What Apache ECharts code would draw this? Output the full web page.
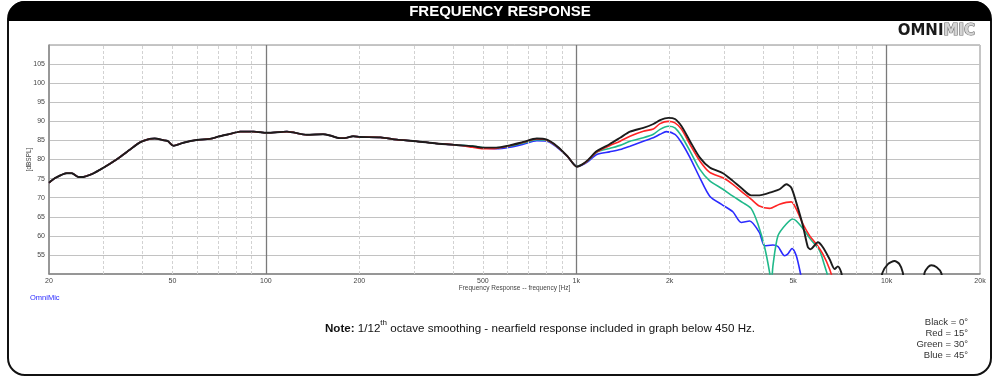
<!DOCTYPE html>
<html><head><meta charset="utf-8">
<script src="https://cdn.jsdelivr.net/npm/echarts@6/dist/echarts.min.js"></script>
<style>html,body{margin:0;padding:0;background:#fff}#c{width:1000px;height:378px}</style>
</head><body><div id="c"></div>
<script>
// ---- data (frequency in Hz, level in dB SPL) ----
// nearfield-merged part shared by all angles (below ~450 Hz)
const nearFreq = [20, 20.9, 22.8, 23.7, 24.9, 25.5, 27.5, 29.9, 33.0, 36.5, 39.3, 42.2, 43.8, 47.1, 48.3, 50.3, 52.0, 54.2, 59.8, 65.9, 71.1, 76.6, 82.6, 91.3, 100.9, 116.9, 135.5, 152.9, 160.8, 172.9, 179, 191, 201, 234, 264, 305, 354, 411];
const nearSpl  = [73.9, 75.1, 76.4, 76.4, 75.4, 75.4, 76.2, 77.8, 80.0, 82.6, 84.5, 85.4, 85.5, 85.0, 84.8, 83.6, 83.9, 84.4, 85.1, 85.4, 86.1, 86.7, 87.3, 87.3, 87.0, 87.3, 86.5, 86.6, 86.3, 85.6, 85.6, 86.1, 85.9, 85.8, 85.2, 84.8, 84.2, 83.8];

// 0 deg (black)
const blackFreq = [463, 500, 552, 611, 675, 746, 804, 867, 936, 1005, 1040, 1085, 1165, 1280, 1385, 1490, 1645, 1772, 1862, 1980, 2080, 2185, 2326, 2502, 2693, 2970, 3196, 3440, 3658, 3890, 4304, 4522, 4752, 4932, 5118, 5377, 5578, 5690, 6008, 6234, 6551, 6800, 6967, 7138, 7400, 9500, 9684, 10100, 10608, 11000, 11280, 11500, 13000, 13254, 13600, 13928, 14500, 14998, 15300];
const blackSpl  = [83.5, 83.1, 83.1, 83.7, 84.6, 85.5, 85.2, 83.5, 80.9, 78.1, 78.6, 79.7, 82.2, 84.0, 85.7, 87.3, 88.3, 89.3, 90.3, 90.9, 90.6, 88.7, 84.8, 80.5, 77.9, 76.4, 74.4, 72.2, 70.6, 70.6, 71.6, 72.2, 73.5, 72.6, 68.7, 62.6, 57.0, 56.5, 58.3, 57.0, 53.9, 51.3, 52.0, 50.5, 46.0, 46.0, 50.2, 52.6, 53.4, 52.6, 50.4, 46.0, 46.0, 50.3, 51.8, 52.3, 51.8, 50.3, 46.0];

// 15 deg (red)
const redFreq = [463, 500, 552, 611, 675, 746, 804, 867, 936, 1005, 1040, 1085, 1165, 1280, 1385, 1490, 1645, 1772, 1862, 1980, 2080, 2185, 2326, 2502, 2693, 2970, 3196, 3440, 3658, 3890, 4198, 4522, 4932, 5118, 5377, 5654, 5943, 6234, 6551, 6800];
const redSpl  = [83.2, 82.8, 82.9, 83.6, 84.5, 85.4, 85.1, 83.4, 80.9, 78.1, 78.6, 79.6, 82.0, 83.6, 84.8, 86.1, 87.4, 88.0, 89.4, 90.0, 89.6, 87.9, 83.9, 79.6, 76.6, 75.2, 73.5, 71.3, 69.6, 67.8, 67.2, 68.3, 68.9, 67.0, 63.1, 60.0, 57.8, 55.2, 51.3, 47.0];

// 30 deg (green)
const greenFreq = [463, 500, 552, 611, 675, 746, 804, 867, 936, 1005, 1040, 1085, 1165, 1280, 1385, 1490, 1645, 1772, 1862, 1980, 2080, 2185, 2326, 2502, 2693, 2970, 3196, 3440, 3658, 3850, 4046, 4198, 4250, 4304, 4466, 4752, 4992, 5175, 5444, 5690, 6084, 6313, 6436, 6550];
const greenSpl  = [83.5, 83.1, 83.0, 83.5, 84.3, 85.2, 85.0, 83.4, 80.9, 78.2, 78.6, 79.5, 81.9, 82.9, 83.7, 84.8, 85.7, 86.6, 87.9, 88.7, 88.3, 86.1, 82.2, 77.4, 74.4, 72.2, 70.4, 68.7, 67.2, 63.1, 57.0, 50.4, 47.0, 52.2, 60.0, 63.1, 64.4, 63.5, 61.3, 59.1, 56.1, 52.2, 50.0, 47.0];

// 45 deg (blue)
const blueFreq = [463, 500, 552, 611, 675, 746, 804, 867, 936, 1005, 1040, 1085, 1165, 1280, 1385, 1490, 1645, 1772, 1862, 1950, 2080, 2185, 2326, 2502, 2693, 2970, 3196, 3400, 3620, 3890, 4046, 4304, 4466, 4690, 4800, 4960, 5118, 5284, 5400];
const blueSpl  = [83.4, 83.0, 82.8, 83.2, 84.0, 84.9, 84.8, 83.2, 80.8, 78.2, 78.5, 79.3, 81.3, 82.0, 82.6, 83.5, 84.8, 85.7, 86.6, 87.3, 86.6, 84.4, 80.5, 75.2, 70.4, 68.0, 66.3, 63.5, 63.9, 60.9, 57.4, 57.6, 57.2, 54.8, 55.2, 56.7, 54.8, 50.0, 46.0];

const xLabelValues = [20, 50, 100, 200, 500, 1000, 2000, 5000, 10000, 20000];
const xMinorGrid = [30, 40, 50, 60, 70, 80, 90, 200, 300, 400, 500, 600, 700, 800, 900, 2000, 3000, 4000, 5000, 6000, 7000, 8000, 9000];
const xMajorGrid = [100, 1000, 10000];
const legendLines = ['Black = 0\u00b0', 'Red = 15\u00b0', 'Green = 30\u00b0', 'Blue = 45\u00b0'];

function pairs(f, v) {
  const out = [];
  for (let i = 0; i < nearFreq.length; i++) out.push([nearFreq[i], nearSpl[i]]);
  for (let i = 0; i < f.length; i++) out.push([f[i], v[i]]);
  return out;
}

const chart = echarts.init(document.getElementById('c'), null, {renderer: 'canvas'});

function curve(name, color, f, v, w, z) {
  return {
    name: name, type: 'line', data: pairs(f, v), showSymbol: false, symbol: 'none',
    smooth: 0.25, clip: true, z: z,
    lineStyle: {color: color, width: w}, itemStyle: {color: color}, silent: true
  };
}

const gridMarks = [];
xMinorGrid.forEach(v => gridMarks.push({xAxis: v, lineStyle: {color: '#d2d2d2', width: 1, type: [3, 2]}}));
xMajorGrid.forEach(v => gridMarks.push({xAxis: v, lineStyle: {color: '#7a7a7a', width: 1.3, type: 'solid'}}));

const legendGraphics = legendLines.map((t, i) => ({
  type: 'text', right: 32, top: 317 + i * 11,
  style: {text: t, fill: '#333', font: '9.5px "Liberation Sans", Arial, sans-serif', textAlign: 'right'}
}));

chart.setOption({
  animation: false,
  backgroundColor: '#fff',
  grid: {left: 49, right: 20, top: 45, bottom: 104, show: true, borderColor: '#8c8c8c', borderWidth: 1, backgroundColor: 'transparent'},
  xAxis: {
    type: 'log', logBase: 10, min: 20, max: 20000,
    name: 'Frequency Response -- frequency [Hz]', nameLocation: 'middle', nameGap: 11, nameMoveOverlap: false,
    nameTextStyle: {fontSize: 6.5, color: '#444', fontFamily: 'Liberation Sans'},
    axisLine: {show: true, lineStyle: {color: '#888', width: 1.5}},
    axisTick: {show: false},
    splitLine: {show: false},
    axisLabel: {
      customValues: xLabelValues, fontSize: 7, color: '#444', margin: 4, fontFamily: 'Liberation Sans',
      formatter: v => { const r = Math.round(v); return r >= 1000 ? (r / 1000) + 'k' : String(r); }
    }
  },
  yAxis: {
    type: 'value', min: 50, max: 110, interval: 5,
    name: '[dBSPL]', nameLocation: 'middle', nameGap: 16, nameRotate: 90, nameMoveOverlap: false,
    nameTextStyle: {fontSize: 6.5, color: '#444', fontFamily: 'Liberation Sans'},
    axisLine: {show: true, lineStyle: {color: '#888', width: 1.5}},
    axisTick: {show: false},
    splitLine: {show: true, lineStyle: {color: '#c2c2c2', width: 1.2}},
    axisLabel: {fontSize: 7, color: '#444', margin: 4, fontFamily: 'Liberation Sans',
      formatter: v => (v === 50 || v === 110) ? '' : String(v)}
  },
  series: [
    {type: 'line', data: [], silent: true, z: 1,
     markLine: {silent: true, symbol: ['none', 'none'], label: {show: false}, animation: false, data: gridMarks}},
    curve('45', '#2b2bff', blueFreq, blueSpl, 1.6, 2),
    curve('30', '#20b98a', greenFreq, greenSpl, 1.6, 3),
    curve('15', '#ff2424', redFreq, redSpl, 1.6, 4),
    curve('0', '#1c1c1c', blackFreq, blackSpl, 1.9, 5)
  ],
  graphic: [
    {type: 'rect', shape: {x: 8, y: 2, width: 983, height: 373, r: 17}, style: {fill: 'none', stroke: '#111', lineWidth: 2}, z: 10},
    {type: 'rect', shape: {x: 8, y: 1, width: 983, height: 20, r: [17, 17, 0, 0]}, style: {fill: '#000'}, z: 10},
    {type: 'text', x: 500, y: 11.5, z: 11,
     style: {text: 'FREQUENCY RESPONSE', fill: '#fff', font: 'bold 15px "Liberation Sans", Arial, sans-serif', textAlign: 'center', textVerticalAlign: 'middle'}},
    {type: 'text', x: 975, y: 31, z: 11,
     style: {text: '{a|OMNI}{b|MIC}', textAlign: 'right', textVerticalAlign: 'middle',
       rich: {a: {font: 'bold 15px "DejaVu Sans", sans-serif', fill: '#1a1a1a'},
              b: {font: 'bold 15px "DejaVu Sans", sans-serif', fill: '#d4d4d4', stroke: '#6e6e6e', lineWidth: 1.2}}}},
    {type: 'text', x: 30, y: 294, z: 11,
     style: {text: 'OmniMic', fill: '#2a2aff', font: '7.5px "Liberation Sans", Arial, sans-serif'}},
    {type: 'text', x: 540, y: 327, z: 11,
     style: {text: '{b|Note:}{n| 1/12}{s|th}{n| octave smoothing - nearfield response included in graph below 450 Hz.}',
       textAlign: 'center', textVerticalAlign: 'middle',
       rich: {
         b: {font: 'bold 11.6px "Liberation Sans", Arial, sans-serif', fill: '#111', lineHeight: 16, verticalAlign: 'bottom'},
         n: {font: '11.6px "Liberation Sans", Arial, sans-serif', fill: '#111', lineHeight: 16, verticalAlign: 'bottom'},
         s: {font: '8px "Liberation Sans", Arial, sans-serif', fill: '#111', lineHeight: 16, verticalAlign: 'top'}
       }}}
  ].concat(legendGraphics)
});
</script></body></html>
